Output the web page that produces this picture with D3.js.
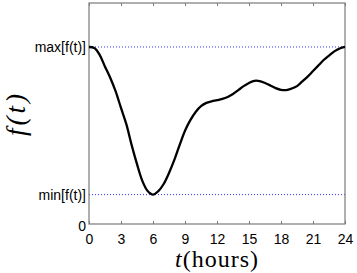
<!DOCTYPE html>
<html><head><meta charset="utf-8">
<script src="https://cdn.jsdelivr.net/npm/d3@7"></script>
<style>
body{margin:0;background:#fff;}
svg{display:block;}
.tick text{font-family:"Liberation Sans",Arial,sans-serif;font-size:14px;fill:#000;}
</style></head>
<body>
<svg id="c" width="357" height="273"></svg>
<script>
// Data
const hours = [0,0.5,1,1.5,2,2.5,3,3.5,4,4.5,5,5.5,6,6.5,7,7.5,8,8.5,9,9.5,10,10.5,11,11.5,12,12.5,13,13.5,14,14.5,15,15.5,16,16.5,17,17.5,18,18.5,19,19.5,20,20.5,21,21.5,22,22.5,23,23.5,24];
const fValues = [0.801,0.796,0.765,0.712,0.661,0.600,0.525,0.452,0.357,0.271,0.195,0.149,0.133,0.149,0.181,0.231,0.290,0.358,0.422,0.470,0.507,0.533,0.548,0.555,0.560,0.566,0.575,0.588,0.606,0.624,0.638,0.648,0.647,0.638,0.627,0.615,0.607,0.606,0.613,0.624,0.645,0.667,0.692,0.717,0.742,0.762,0.781,0.794,0.801];
const xTicks = [0,3,6,9,12,15,18,21,24];
const fMax = 0.801, fMin = 0.133;
const yTickValues = [0, fMin, fMax];
const yTickLabels = ["0", "min[f(t)]", "max[f(t)]"];

const svg = d3.select("#c");
const L = 89, R = 345, T = 3, B = 224;
const x = d3.scaleLinear().domain([0,24]).range([L,R]);
const y = d3.scaleLinear().domain([0,1]).range([B,T]);
const axisColor = "#7a7a7a";

// dotted reference lines
svg.selectAll("line.ref").data([fMax,fMin]).enter().append("line")
  .attr("x1",x(0)).attr("x2",x(24)).attr("y1",d=>y(d)).attr("y2",d=>y(d))
  .attr("stroke","#3333ff").attr("stroke-width",1).attr("stroke-dasharray","1,2");

// box
svg.append("rect").attr("x",L).attr("y",T).attr("width",R-L).attr("height",B-T)
  .attr("fill","none").attr("stroke",axisColor).attr("stroke-width",1.2);

// bottom axis
const gb = svg.append("g").attr("transform",`translate(0,${B})`)
  .call(d3.axisBottom(x).tickValues(xTicks).tickSizeInner(-3).tickSizeOuter(0).tickPadding(8));
gb.select(".domain").remove();
gb.selectAll(".tick line").attr("stroke",axisColor);
gb.selectAll(".tick text").attr("dy","0.85em");

// top axis (ticks only)
const gt = svg.append("g").attr("transform",`translate(0,${T})`)
  .call(d3.axisTop(x).tickValues(xTicks).tickSizeInner(-3).tickSizeOuter(0).tickFormat(""));
gt.select(".domain").remove();
gt.selectAll(".tick line").attr("stroke",axisColor);

// left axis
const gl = svg.append("g").attr("transform",`translate(${L},0)`)
  .call(d3.axisLeft(y).tickValues(yTickValues).tickSizeInner(0).tickSizeOuter(0).tickPadding(3)
    .tickFormat((d,i)=>yTickLabels[i]));
gl.select(".domain").remove();
gl.selectAll(".tick text").filter((d,i)=>i===0).attr("dy","0.45em");

// curve
const line = d3.line().x((d,i)=>x(hours[i])).y(d=>y(d)).curve(d3.curveCatmullRom);
svg.append("path").attr("d",line(fValues)).attr("fill","none")
  .attr("stroke","#000").attr("stroke-width",2.3).attr("stroke-linejoin","round");

// axis titles
svg.append("text").attr("transform",`translate(25,${(T+B)/2}) rotate(-90)`)
  .attr("text-anchor","middle").attr("font-family","'Liberation Serif','DejaVu Serif',serif")
  .attr("font-size",27).attr("font-style","italic").attr("letter-spacing",3).text("f(t)");

const xl = svg.append("text").attr("x",(L+R)/2).attr("y",267)
  .attr("text-anchor","middle").attr("font-family","'Liberation Serif','DejaVu Serif',serif")
  .attr("font-size",24).attr("letter-spacing",1);
xl.append("tspan").attr("font-style","italic").text("t");
xl.append("tspan").text("(hours)");
</script>
</body></html>
